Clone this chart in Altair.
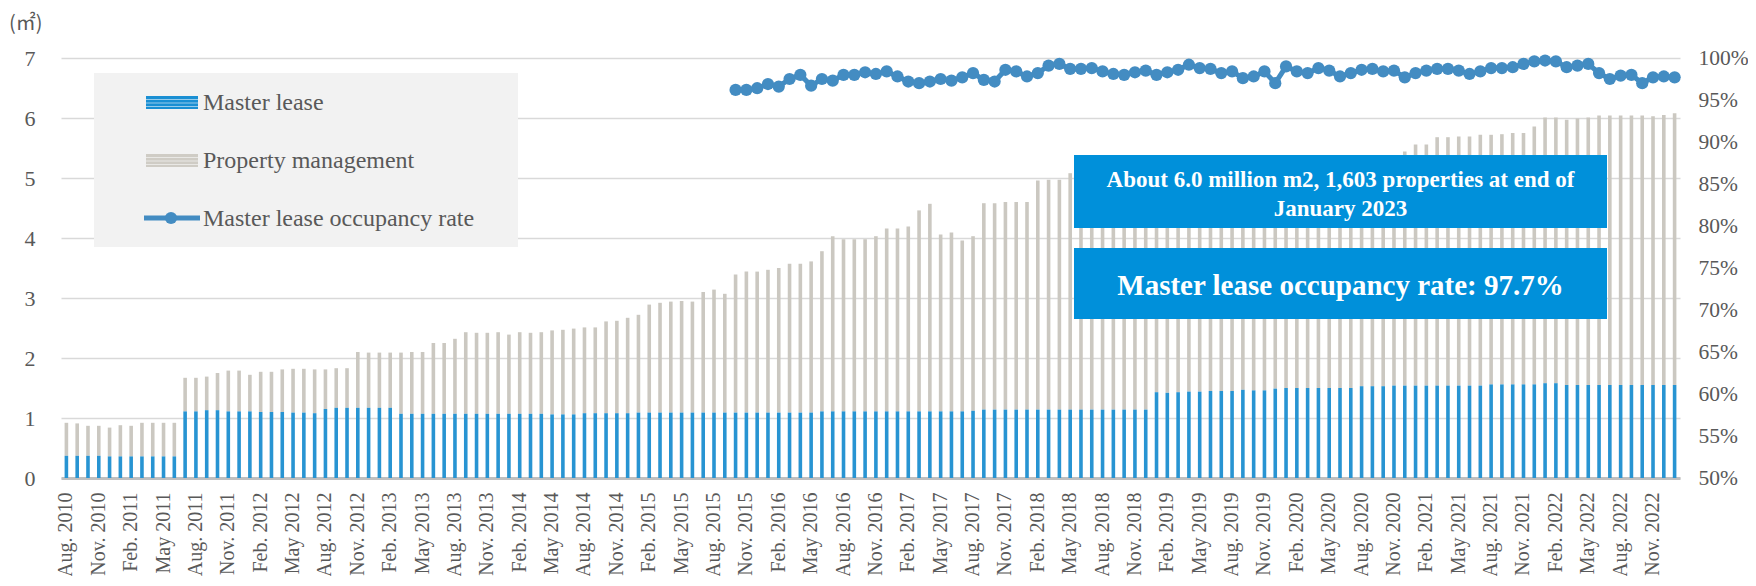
import altair as alt
import pandas as pd

# ---------------- data ----------------
MONTH_ABBR = ["Jan.", "Feb.", "Mar.", "Apr.", "May", "Jun.", "Jul.",
              "Aug.", "Sep.", "Oct.", "Nov.", "Dec."]
months = []
yy, mm = 2010, 8
for _ in range(150):
    months.append(f"{MONTH_ABBR[mm - 1]} {yy}")
    mm += 1
    if mm > 12:
        mm = 1
        yy += 1
tick_labels = months[::3]

# total managed floor area (million m2) = master lease + property management
total_area = [
    0.92, 0.91, 0.87, 0.87, 0.84, 0.88, 0.87, 0.92, 0.92, 0.92, 0.92,
    1.67, 1.67, 1.69, 1.75, 1.79, 1.79, 1.72,
    1.77, 1.77, 1.81, 1.82, 1.82, 1.81, 1.81, 1.83, 1.83,
    2.10, 2.09, 2.09, 2.09, 2.09, 2.10, 2.10,
    2.25, 2.25, 2.32,
    2.43, 2.42, 2.42, 2.43, 2.39, 2.43, 2.42, 2.43, 2.46, 2.47,
    2.49, 2.51, 2.51, 2.61, 2.62, 2.67, 2.72, 2.89, 2.92, 2.94,
    2.95, 2.94, 3.10, 3.14, 3.07, 3.39, 3.44, 3.44, 3.47, 3.50,
    3.57, 3.57, 3.61, 3.78, 4.03, 3.98, 3.98, 3.98, 4.03,
    4.16, 4.16, 4.19, 4.46, 4.57, 4.06, 4.09, 3.96, 4.03,
    4.58, 4.58, 4.60, 4.60, 4.60, 4.96, 4.97, 4.97, 5.08,
    5.10, 5.10, 5.11, 5.11, 5.12, 5.14, 5.14, 5.16, 5.16, 5.18,
    5.19, 5.19, 5.21, 5.21, 5.22, 5.24, 5.24, 5.25, 5.27, 5.27,
    5.28, 5.30, 5.30, 5.31, 5.32, 5.32, 5.33, 5.34, 5.34, 5.35,
    5.44, 5.56, 5.56, 5.68, 5.68, 5.69, 5.69, 5.72, 5.72,
    5.73, 5.75, 5.75, 5.86, 6.01, 6.01, 5.97, 5.99, 6.01,
    6.04, 6.04, 6.04, 6.04, 6.04, 6.03, 6.05, 6.08,
]

master_lease = [
    0.37, 0.37, 0.37, 0.37, 0.36, 0.36, 0.36, 0.36, 0.36, 0.36, 0.36,
    1.11, 1.11, 1.13, 1.13, 1.11, 1.11, 1.11,
    1.10, 1.10, 1.10, 1.09, 1.09, 1.08,
    1.15,
    1.17, 1.17, 1.17, 1.17, 1.17, 1.17,
    1.07, 1.07, 1.07, 1.07, 1.07, 1.07,
    1.07, 1.07, 1.07, 1.07, 1.07, 1.07, 1.07, 1.07,
    1.06, 1.06, 1.06,
    1.08, 1.08, 1.08, 1.08, 1.08,
    1.09, 1.09, 1.09, 1.09,
    1.09, 1.09, 1.09, 1.09, 1.09, 1.09, 1.09, 1.09, 1.09, 1.09, 1.09, 1.09, 1.09,
    1.11, 1.11, 1.11, 1.11, 1.11,
    1.11, 1.11, 1.11, 1.11, 1.11, 1.11, 1.11, 1.11, 1.11,
    1.12,
    1.14, 1.14, 1.14, 1.14, 1.14, 1.14, 1.14, 1.14,
    1.14, 1.14, 1.14, 1.14, 1.14, 1.14, 1.14, 1.14,
    1.43, 1.42, 1.43, 1.44, 1.44, 1.45, 1.45, 1.45, 1.47, 1.46, 1.46, 1.49, 1.50,
    1.50, 1.50, 1.50, 1.50, 1.50, 1.50,
    1.53, 1.53, 1.53,
    1.54, 1.54, 1.54, 1.54, 1.54, 1.54, 1.54, 1.54, 1.54,
    1.56, 1.56, 1.56, 1.56, 1.56,
    1.58, 1.58,
    1.55, 1.55, 1.55, 1.55, 1.55, 1.55, 1.55, 1.55, 1.55, 1.55, 1.55,
]

# master lease occupancy rate (%), from Oct. 2015 onwards
occ_start = "Oct. 2015"
occupancy = [
    96.2, 96.2, 96.4, 96.9, 96.6, 97.5, 98.0, 96.7, 97.5, 97.3, 98.0, 98.0, 98.3, 98.1,
    98.4, 97.8, 97.2, 97.0, 97.2, 97.5, 97.3, 97.7, 98.2, 97.4, 97.2, 98.6, 98.4, 97.8,
    98.2, 99.1, 99.3, 98.7, 98.7,
    98.8, 98.4, 98.1, 98.0, 98.3, 98.5, 98.0, 98.3, 98.6, 99.2, 98.8, 98.7, 98.2, 98.4,
    97.6, 97.8, 98.4, 97.0,
    99.0, 98.4, 98.2, 98.8, 98.5, 97.8, 98.2, 98.6, 98.7, 98.4, 98.5, 97.7, 98.2, 98.5,
    98.7, 98.7, 98.5, 98.1, 98.4, 98.8, 98.8, 98.9, 99.3, 99.6, 99.7, 99.6, 98.9, 99.1,
    99.3, 98.2, 97.5, 97.9, 98.0, 97.0, 97.7, 97.8, 97.7,
]

df = pd.DataFrame({"month": months, "master": master_lease, "total": total_area})
i0 = months.index(occ_start)
occ_df = pd.DataFrame({"month": months[i0:], "occ": occupancy})

# ---------------- style ----------------
FONT = "Liberation Serif"
GREY_TXT = "#595959"
BLUE_BAR = "#2894d2"
GREY_BAR = "#cbc8c1"
LINE_C = "#438cc2"
BOX_C = "#0090da"

W, H = 1619, 420

x_enc = alt.X(
    "month:N",
    scale=alt.Scale(type="band", domain=months, paddingInner=0, paddingOuter=0),
    axis=alt.Axis(
        values=tick_labels, labelAngle=-90, title=None, ticks=False, tickSize=0,
        labelFont=FONT, labelFontSize=20, labelColor=GREY_TXT, labelPadding=14,
        labelOverlap=False, domain=True, domainColor="#bfbfbf", domainWidth=3,
        grid=False,
    ),
)

left_axis = alt.Axis(
    values=[0, 1, 2, 3, 4, 5, 6, 7], orient="left", title=None, grid=True,
    gridColor="#d9d9d9", gridWidth=1.6, domain=False, ticks=False, tickSize=0,
    labelFont=FONT, labelFontSize=22, labelColor=GREY_TXT, labelPadding=26,
)

gray_bars = alt.Chart(df).mark_bar(color=GREY_BAR, size=3.6).encode(
    x=x_enc,
    y=alt.Y("total:Q", scale=alt.Scale(domain=[0, 7], nice=False, zero=True), axis=left_axis),
    y2="master:Q",
)

blue_bars = alt.Chart(df).mark_bar(color=BLUE_BAR, size=3.6).encode(
    x=x_enc,
    y=alt.Y("master:Q", scale=alt.Scale(domain=[0, 7], nice=False, zero=True), axis=None),
)

right_axis = alt.Axis(
    values=[50, 55, 60, 65, 70, 75, 80, 85, 90, 95, 100], orient="right", title=None,
    grid=False, domain=False, ticks=False, tickSize=0, labelExpr="datum.value + '%'",
    labelFont=FONT, labelFontSize=21.5, labelColor=GREY_TXT, labelPadding=18,
)

occ_line = alt.Chart(occ_df).mark_line(color=LINE_C, strokeWidth=5).encode(
    x=x_enc,
    y=alt.Y("occ:Q", scale=alt.Scale(domain=[50, 100], nice=False, zero=False), axis=right_axis),
)
occ_pts = alt.Chart(occ_df).mark_circle(color=LINE_C, size=150, opacity=1).encode(
    x=x_enc,
    y=alt.Y("occ:Q", scale=alt.Scale(domain=[50, 100], nice=False, zero=False), axis=None),
)

one = pd.DataFrame({"k": [0]})


def rect(x1, x2, y1, y2, color):
    return alt.Chart(one).mark_rect(color=color).encode(
        x=alt.value(x1), x2=alt.value(x2), y=alt.value(y1), y2=alt.value(y2))


def hline(x1, x2, y, color, width, opacity=1.0):
    return alt.Chart(one).mark_rule(color=color, strokeWidth=width, opacity=opacity).encode(
        x=alt.value(x1), x2=alt.value(x2), y=alt.value(y))


def label(txt, x, y, size, color=GREY_TXT, align="left", bold=False, font=FONT, baseline="alphabetic"):
    return alt.Chart(one).mark_text(
        text=txt, align=align, baseline=baseline, fontSize=size, color=color, font=font,
        fontWeight="bold" if bold else "normal",
    ).encode(x=alt.value(x), y=alt.value(y))


# legend (plot-area pixel coordinates)
legend = [
    rect(33, 457, 15, 189, "#f2f2f2"),
    rect(85, 137, 38, 51, "#1a8fd3"),
    hline(85, 137, 41.5, "white", 1, 0.55),
    hline(85, 137, 45, "white", 1, 0.55),
    hline(85, 137, 48.5, "white", 1, 0.55),
    rect(85, 137, 96, 109, "#cfccc5"),
    hline(85, 137, 99.5, "white", 1, 0.55),
    hline(85, 137, 103, "white", 1, 0.55),
    hline(85, 137, 106.5, "white", 1, 0.55),
    hline(83, 139, 160, LINE_C, 5),
    alt.Chart(one).mark_circle(color=LINE_C, size=150, opacity=1).encode(
        x=alt.value(110), y=alt.value(160)),
    label("Master lease", 142, 52, 24),
    label("Property management", 142, 110, 24),
    label("Master lease occupancy rate", 142, 168, 24),
]

# annotation boxes
annot = [
    rect(1013, 1546, 97, 170, BOX_C),
    rect(1013, 1546, 190, 261, BOX_C),
    label("About 6.0 million m2, 1,603 properties at end of", 1279.5, 128.5, 23,
          color="white", align="center", bold=True),
    label("January 2023", 1279.5, 157.5, 23, color="white", align="center", bold=True),
    label("Master lease occupancy rate: 97.7%", 1279.5, 237, 29,
          color="white", align="center", bold=True),
]

unit = label("(㎡)", -52, -34, 20, font="Noto Sans CJK JP", baseline="middle")

chart = alt.layer(
    gray_bars, blue_bars, occ_line, occ_pts, *legend, *annot, unit
).resolve_scale(y="independent").properties(
    width=W, height=H,
    padding={"left": 53, "top": 50, "right": 68, "bottom": 98},
    autosize=alt.AutoSizeParams(type="none"),
).configure(font=FONT).configure_view(strokeWidth=0)

chart.save("out.html", embed_options={"renderer": "svg", "actions": False})
